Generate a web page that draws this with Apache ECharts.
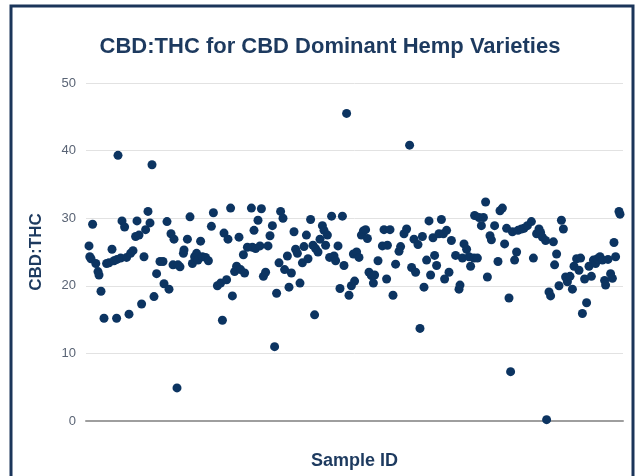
<!DOCTYPE html>
<html>
<head>
<meta charset="utf-8">
<script src="https://cdn.jsdelivr.net/npm/echarts@6/dist/echarts.min.js"></script>
<style>
html,body{margin:0;padding:0;background:#fff;}
#chart{width:644px;height:476px;}
</style>
</head>
<body>
<div id="chart"></div>
<script>
const chartTitle = "CBD:THC for CBD Dominant Hemp Varieties";
const xAxisName = "Sample ID";
const yAxisName = "CBD:THC";
const yTicks = [0, 10, 20, 30, 40, 50];

const sampleId = [
  1.5,1.9,2.5,3.3,4.9,6,6.5,7.5,9,10.3,11.5,13,14,15.3,15.5,16,17.3,18,19.3,20.3,
  21.5,22.3,23.5,24.8,25.5,26.5,27.8,29,29.8,31,32,33,34,35.3,37,38.5,39,40.5,41.5,42.5,
  43.5,44,45.5,46,47,48.7,49,50.7,52,53.2,54.3,55.3,56,57.3,58.2,59.8,61.2,62.7,63.7,65.7,
  67.3,68.2,69,70.3,71,72.3,73.2,74.3,75.3,76.5,77.3,78.7,79.3,80.7,82.7,83.2,84,84.8,86,87,
  87.7,88.7,89.8,91,92,93.2,94.3,95.3,96.5,97.3,98.5,99.3,100.7,101.5,102.7,104,104.8,105.7,107,108.2,
  109,110.2,111,112.3,113.5,114.3,114.8,116,117,118.2,119,119.8,120.7,121.8,122.8,124,124.8,126,127,128.2,
  129,130.3,131.5,132.7,133.7,134.3,135.3,136.5,137.7,138.7,139.8,140.7,141.5,142.7,143.7,144.3,146,148.2,149,150.3,
  150.7,152,153.5,154.8,156.5,157.3,159,160.3,161.8,162.8,164,164.8,166,167,168.2,169,170.3,171.5,172.3,173.5,
  174.3,175.3,176.5,177.7,178.7,179.3,180.3,181.5,182.7,184.8,186.5,187,188.2,189,190.3,191.5,192.3,194,194.3,195.7,
  196.5,197.7,198.7,199.8,200.7,202,202.7,204.3,206,207,208.2,209.3,210.3,211.5,212.3,213.2,214.3,215.3,216,217.7,
  219,220.7,222.7,223.7,225.3,226.5,227.3,228.2,229.8,230.3,231.5,232.3,233.7,234.3,235.3,236.5,237.7,238.7,239.8,240.7,
  242,243.2,244,245.3,246.5,247.3,248.2,249.3,250.3,251.5,252.7,253.7,254.8,255.7,257,258.2,259.3,259.8,261,262.3,
  263.2,264,264.8,266.5,267
];

const cbdThc = [
  25.9,24.3,24.0,29.1,23.3,22.1,21.6,19.2,15.2,23.3,23.4,25.4,23.7,15.2,23.9,39.3,24.1,29.6,28.7,24.2,
  15.8,24.8,25.2,27.3,29.6,27.5,17.3,24.3,28.3,31.0,29.3,37.9,18.4,21.8,23.6,23.6,20.3,29.5,19.5,27.7,
  23.1,26.9,4.9,23.1,22.8,24.8,25.3,26.9,30.2,23.3,24.3,24.8,23.8,26.6,24.3,24.2,23.7,28.8,30.8,20.0,
  20.4,14.9,27.8,20.9,26.9,31.5,18.5,22.1,22.9,27.2,22.4,24.6,21.9,25.7,31.5,25.7,28.2,25.5,29.7,25.9,
  31.4,21.4,22.0,25.9,27.4,28.9,11.0,18.9,23.4,31.0,30.0,22.4,24.4,19.8,21.9,28.0,25.4,24.8,20.4,23.4,
  25.8,27.5,24.0,29.8,26.0,15.7,25.5,25.0,26.9,28.9,28.2,26.0,27.5,24.2,30.3,24.4,23.7,25.9,19.6,30.3,
  23.0,45.5,18.6,20.0,24.7,20.7,25.0,24.2,27.5,28.1,28.3,27.0,22.0,21.5,20.4,21.6,23.7,25.9,28.3,21.0,
  26.0,28.3,18.6,23.2,25.1,25.8,27.7,28.4,40.8,22.7,26.9,22.0,26.1,13.7,27.3,19.8,23.8,29.6,21.6,27.1,
  24.5,23.0,27.7,29.8,27.7,21.0,28.2,22.0,26.7,24.5,19.5,20.1,24.1,26.2,25.4,24.3,22.9,24.1,30.4,24.1,
  30.1,28.9,30.1,32.4,21.3,27.4,26.8,28.9,23.6,31.1,31.5,26.2,28.5,18.2,7.3,28.0,23.8,25.0,28.2,28.4,
  28.5,28.9,29.5,24.1,27.7,28.4,27.9,27.2,26.7,0.2,19.1,18.5,26.5,23.1,24.7,20.0,29.7,28.4,21.3,20.6,
  21.4,19.5,22.9,24.0,22.3,24.1,15.9,21.0,17.5,22.9,21.4,23.8,23.3,24.0,24.3,23.8,20.8,20.1,23.9,21.8,
  21.1,26.4,24.3,31.0,30.6
];

const points = sampleId.map((x, i) => [x, cbdThc[i]]);

const chart = echarts.init(document.getElementById('chart'), null, {renderer: 'canvas'});
chart.setOption({
  animation: false,
  backgroundColor: '#ffffff',
  title: {
    text: chartTitle,
    left: 325,
    top: 31,
    textAlign: 'center',
    textStyle: {
      fontFamily: 'Liberation Sans, Arial, sans-serif',
      fontSize: 22,
      fontWeight: 'bold',
      color: '#1d3a5f'
    }
  },
  graphic: [{
    type: 'rect',
    shape: {x: 11, y: 6, width: 622, height: 490},
    style: {fill: 'none', stroke: '#1b355a', lineWidth: 3},
    silent: true,
    z: 100
  }],
  grid: {left: 86, right: 21, top: 83, bottom: 55, containLabel: false},
  xAxis: {
    type: 'value',
    min: 0,
    max: 268.5,
    name: xAxisName,
    nameLocation: 'middle',
    nameGap: 31,
    nameTextStyle: {
      fontFamily: 'Liberation Sans, Arial, sans-serif',
      fontSize: 18,
      fontWeight: 'bold',
      color: '#1d3a5f'
    },
    axisLine: {show: true, onZero: false, lineStyle: {color: '#9e9e9e', width: 2}},
    axisTick: {show: false},
    axisLabel: {show: false},
    splitLine: {show: false}
  },
  yAxis: {
    type: 'value',
    min: yTicks[0],
    max: yTicks[yTicks.length - 1],
    interval: 10,
    name: yAxisName,
    nameLocation: 'middle',
    nameGap: 41,
    nameRotate: 90,
    nameTextStyle: {
      fontFamily: 'Liberation Sans, Arial, sans-serif',
      fontSize: 17,
      fontWeight: 'bold',
      color: '#1d3a5f'
    },
    axisLine: {show: false},
    axisTick: {show: false},
    axisLabel: {
      margin: 10,
      fontFamily: 'Liberation Sans, Arial, sans-serif',
      fontSize: 13,
      color: '#5a6475'
    },
    splitLine: {show: true, lineStyle: {color: '#e2e2e2', width: 1}}
  },
  series: [{
    type: 'scatter',
    data: points,
    symbol: 'circle',
    symbolSize: 9,
    itemStyle: {color: '#0c3461', opacity: 1},
    clip: false,
    z: 3
  }]
});
</script>
</body>
</html>
